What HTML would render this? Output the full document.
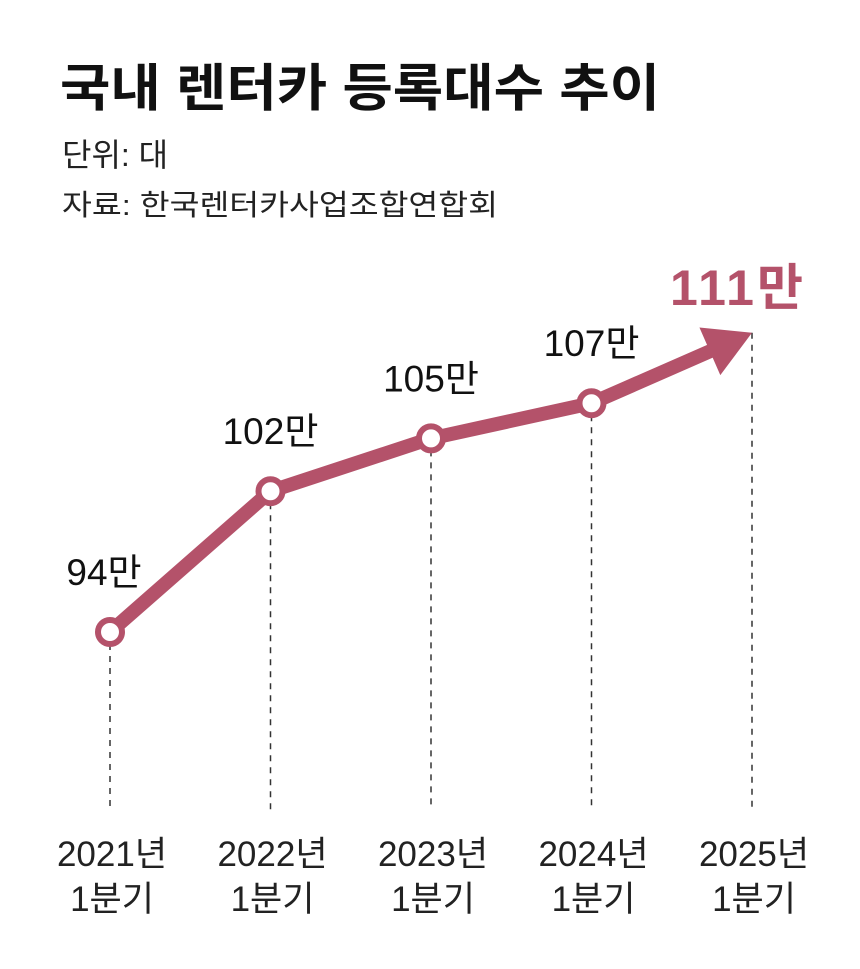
<!DOCTYPE html>
<html><head><meta charset="utf-8">
<style>
body{margin:0;background:#fff;}
svg{display:block;font-family:"Liberation Sans","Noto Sans CJK KR",sans-serif;}
</style></head>
<body>
<svg id="chart" width="860" height="969" viewBox="0 0 860 969" xmlns="http://www.w3.org/2000/svg">
  <rect width="860" height="969" fill="#fff"/>
  <text x="60" y="106" font-size="51" font-weight="bold" fill="#111" textLength="600" lengthAdjust="spacingAndGlyphs">국내 렌터카 등록대수 추이</text>
  <text x="62" y="166" font-size="32" fill="#222">단위: 대</text>
  <text x="62" y="215" font-size="29" fill="#222" textLength="436" lengthAdjust="spacingAndGlyphs">자료: 한국렌터카사업조합연합회</text>
  <g id="grid"></g>
  <g id="series"></g>
  <g id="labels"></g>
</svg>
<script>
const categories = ["2021년", "2022년", "2023년", "2024년", "2025년"];
const subLabels = ["1분기", "1분기", "1분기", "1분기", "1분기"];
const values = [94, 102, 105, 107, 111];
const valueLabels = ["94만", "102만", "105만", "107만", "111만"];

const NS = "http://www.w3.org/2000/svg";
const COLOR = "#b4526a";
function xScale(i){ return 110 + i * 160.5; }
function yScale(v){ return 632 - (v - 94) * 17.6; }
function mk(tag, attrs, parent){
  const e = document.createElementNS(NS, tag);
  for (const k in attrs) e.setAttribute(k, attrs[k]);
  parent.appendChild(e);
  return e;
}
const grid = document.getElementById("grid");
const series = document.getElementById("series");
const labels = document.getElementById("labels");
const n = values.length;

for (let i = 0; i < n; i++) {
  const x = xScale(i), y = yScale(values[i]);
  const d = mk("line", {x1:x, y1:y, x2:x, y2:810, stroke:"#333", "stroke-width":1.5, "stroke-dasharray":"6,6"}, grid);
  
  
  const t1 = mk("text", {x:x+2, y:866, "font-size":35, "text-anchor":"middle", fill:"#222"}, labels);
  t1.textContent = categories[i];
  
  
  const t2 = mk("text", {x:x+2, y:911, "font-size":35, "text-anchor":"middle", fill:"#222"}, labels);
  t2.textContent = subLabels[i];
  
  
}

const lx = xScale(n-1), ly = yScale(values[n-1]);
const px = xScale(n-2), py = yScale(values[n-2]);
const ang = Math.atan2(ly - py, lx - px);
const headLen = 46, headW = 26;
const bx = lx - headLen * Math.cos(ang), by = ly - headLen * Math.sin(ang);
let pts = [];
for (let i = 0; i < n - 1; i++) pts.push(xScale(i) + "," + yScale(values[i]));
pts.push((bx + 2*Math.cos(ang)) + "," + (by + 2*Math.sin(ang)));
const line = mk("polyline", {points:pts.join(" "), fill:"none", stroke:COLOR, "stroke-width":14, "stroke-linejoin":"round"}, series);


const nx = -Math.sin(ang), ny = Math.cos(ang);
const head = mk("polygon", {points:
  lx + "," + ly + " " + (bx + nx*headW) + "," + (by + ny*headW) + " " + (bx - nx*headW) + "," + (by - ny*headW),
  fill:COLOR}, series);



for (let i = 0; i < n - 1; i++) {
  const c = mk("circle", {cx:xScale(i), cy:yScale(values[i]), r:12, fill:"#fff", stroke:COLOR, "stroke-width":6}, series);
  
  
}

for (let i = 0; i < n; i++) {
  const last = i === n - 1;
  const t = mk("text", {
    x: last ? xScale(i) - 14 : xScale(i) - (i === 0 ? 6 : 0),
    y: last ? yScale(values[i]) - 28 : yScale(values[i]) - 47,
    "font-size": last ? 50 : 37,
    "font-weight": last ? "bold" : "normal",
    "letter-spacing": last ? 3 : 0,
    "text-anchor": "middle",
    fill: last ? COLOR : "#111"}, labels);
  t.textContent = valueLabels[i];
  
  
}
</script>
</body></html>
